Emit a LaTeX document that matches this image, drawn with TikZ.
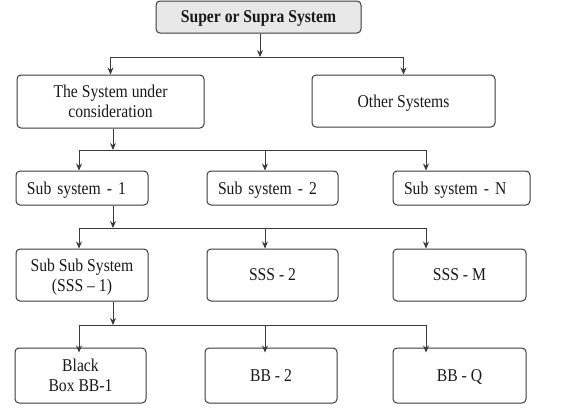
\documentclass[tikz,border=0pt]{standalone}
\usepackage{fontspec}
\setmainfont{Liberation Serif}[FakeStretch=0.87]
\usetikzlibrary{arrows.meta}
\definecolor{edge}{HTML}{3A3A3A}
\definecolor{topfill}{HTML}{E8E8E8}
\begin{document}
\begin{tikzpicture}[x=1pt,y=-1pt,
  box/.style={draw=edge, line width=1pt, rounded corners=4pt, inner sep=0pt,
    font=\fontsize{18}{20}\selectfont, align=center, text=black!90, text depth=0pt},
  leftbox/.style={box, align=left, inner xsep=11pt},
  conn/.style={draw=edge, line width=0.9pt},
  arr/.style={conn, -{Stealth[length=7pt,width=6pt]}}]
\useasboundingbox (0,0) rectangle (565,416);
% nodes
\node[box, fill=topfill, minimum width=205pt, minimum height=32pt, font=\fontsize{18}{20}\selectfont\bfseries] (top) at (258.5,17) {Super or Supra System};
\node[box, minimum width=187pt, minimum height=53pt] (sys) at (110.5,101.5) {The System under\\consideration};
\node[box, minimum width=183pt, minimum height=52pt] (oth) at (403.5,101) {Other Systems};
\node[leftbox, text width=110pt, minimum height=34pt] (ss1) at (82,188) {Sub system - 1};
\node[leftbox, text width=109pt, minimum height=34pt] (ss2) at (272.5,188) {Sub system - 2};
\node[leftbox, text width=115pt, minimum height=34pt] (ssn) at (461.5,188) {Sub system - N};
\node[box, minimum width=132pt, minimum height=52pt] (sss1) at (82,275) {Sub Sub System\\(SSS -- 1)};
\node[box, minimum width=131pt, minimum height=52pt] (sss2) at (272.5,275) {SSS - 2};
\node[box, minimum width=133pt, minimum height=52pt] (sssm) at (459.5,275) {SSS - M};
\node[box, minimum width=131pt, minimum height=55pt] (bb1) at (80.5,375.5) {Black\\Box BB-1};
\node[box, minimum width=132pt, minimum height=55pt] (bb2) at (271,375.5) {BB - 2};
\node[box, minimum width=133pt, minimum height=55pt] (bbq) at (459.5,375.5) {BB - Q};
% junction coordinates
\coordinate (j1) at (260,57);
\coordinate (j2) at (113,150);
\coordinate (j3) at (113,228);
\coordinate (j4) at (113,325);
\coordinate (a1) at (79,0);
\coordinate (a2) at (265,0);
\coordinate (a3) at (426,0);
% level 1
\draw[arr] (top.south -| j1) -- (j1);
\draw[arr] (j1) -| (sys.north);
\draw[arr] (j1) -| (oth.north);
% level 2
\draw[arr] (sys.south -| j2) -- (j2);
\draw[conn] (j2 -| a1) -- (j2 -| a3);
\draw[arr] (j2 -| a1) -- (ss1.north -| a1);
\draw[arr] (j2 -| a2) -- (ss2.north -| a2);
\draw[arr] (j2 -| a3) -- (ssn.north -| a3);
% level 3
\draw[arr] (ss1.south -| j3) -- (j3);
\draw[conn] (j3 -| a1) -- (j3 -| a3);
\draw[arr] (j3 -| a1) -- (sss1.north -| a1);
\draw[arr] (j3 -| a2) -- (sss2.north -| a2);
\draw[arr] (j3 -| a3) -- (sssm.north -| a3);
% level 4
\draw[arr] (sss1.south -| j4) -- (j4);
\draw[conn] (j4 -| a1) -- (j4 -| a3);
\draw[arr] (j4 -| a1) -- ([yshift=-5pt]bb1.north -| a1);
\draw[arr] (j4 -| a2) -- ([yshift=-5pt]bb2.north -| a2);
\draw[arr] (j4 -| a3) -- ([yshift=-5pt]bbq.north -| a3);
\end{tikzpicture}
\end{document}
